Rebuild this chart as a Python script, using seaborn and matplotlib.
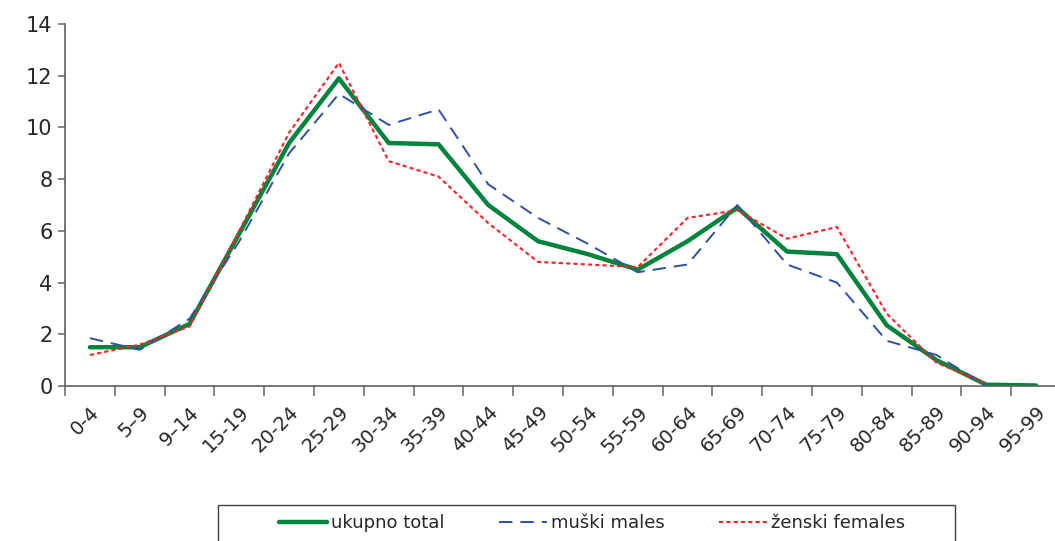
import numpy as np
import pandas as pd
import seaborn as sns
import matplotlib.pyplot as plt
from matplotlib.patches import Rectangle

age_groups = ['0-4', '5\u20139', '9\u201314', '15-19', '20-24', '25-29', '30-34', '35-39',
              '40-44', '45-49', '50-54', '55-59', '60-64', '65-69', '70-74', '75-79',
              '80-84', '85-89', '90-94', '95-99']
total = [1.5, 1.5, 2.4, 5.9, 9.4, 11.9, 9.4, 9.35, 7.0, 5.6, 5.1, 4.5,
         5.6, 6.9, 5.2, 5.1, 2.35, 1.0, 0.05, 0.02]
males = [1.85, 1.4, 2.6, 5.6, 9.0, 11.3, 10.1, 10.7, 7.8, 6.5, 5.5, 4.4,
         4.7, 7.0, 4.7, 4.0, 1.75, 1.2, 0.0, np.nan]
females = [1.2, 1.6, 2.3, 6.0, 9.8, 12.5, 8.7, 8.1, 6.3, 4.8, 4.7, 4.6,
           6.5, 6.8, 5.7, 6.15, 2.8, 0.9, 0.1, np.nan]

sns.set_style('white')
plt.rcParams['font.family'] = ['DejaVu Sans']

df = pd.DataFrame({'pos': np.arange(len(age_groups)), 'total': total,
                   'males': males, 'females': females})

fig = plt.figure(figsize=(10.55, 5.41), dpi=100)
ax = fig.add_axes([65 / 1055, 0.2865, 996 / 1055, 0.669])

sns.lineplot(data=df, x='pos', y='total', ax=ax, color='#00843d', linewidth=3.2,
             label='ukupno total')
sns.lineplot(data=df, x='pos', y='males', ax=ax, color='#2f4fa2', linewidth=1.4,
             label='mu\u0161ki males')
ax.lines[-1].set_dashes([6.9, 4.1])
sns.lineplot(data=df, x='pos', y='females', ax=ax, color='#ff1f26', linewidth=1.5,
             label='\u017eenski females')
ax.lines[-1].set_dashes([2.0, 1.5])

ax.set_xlim(-0.5, len(age_groups) - 0.5)
ax.set_ylim(0, 14)
ax.set_yticks(range(0, 15, 2))
ax.set_xticks(np.arange(len(age_groups)))
ax.set_xticklabels(age_groups, rotation=45, ha='right', rotation_mode='anchor',
                   fontsize=14)
ax.set_xticks(np.arange(len(age_groups) + 1) - 0.5, minor=True)
ax.tick_params(axis='x', which='major', length=0, pad=12)
ax.tick_params(axis='x', which='minor', length=7, width=1.2, color='#707070',
               direction='out', bottom=True)
ax.tick_params(axis='y', length=5, width=1.2, color='#707070', direction='out',
               left=True, labelsize=15, pad=4)
ax.set_xlabel('')
ax.set_ylabel('')
for s in ['top', 'right']:
    ax.spines[s].set_visible(False)
for s in ['left', 'bottom']:
    ax.spines[s].set_color('#606060')
    ax.spines[s].set_linewidth(1.2)

handles, labels = ax.get_legend_handles_labels()
ax.get_legend().remove()
leg = fig.legend(handles, labels, loc='center', ncol=3,
                 bbox_to_anchor=(592 / 1055, 18 / 541),
                 fontsize=13, frameon=False, handlelength=2.7,
                 handletextpad=0.2, columnspacing=3.0)
fig.patches.append(Rectangle((218 / 1055, -0.05), 737 / 1055, 0.05 + 36 / 541,
                             transform=fig.transFigure, fill=False,
                             edgecolor='#404040', linewidth=1.0))

fig.savefig('out.png', dpi=100)
